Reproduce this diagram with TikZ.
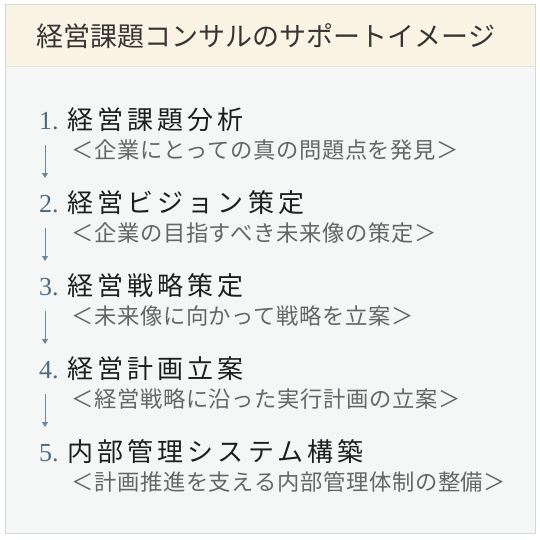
\documentclass[tikz,border=0pt]{standalone}
\usepackage{fontspec}
\usetikzlibrary{arrows.meta}
\newfontfamily\jpfont{Noto Sans CJK JP}
\newfontfamily\jphead[LetterSpace=16]{Noto Sans CJK JP}
\newfontfamily\jpsub[LetterSpace=3]{Noto Sans CJK JP}
\newfontfamily\numfont{Liberation Serif}
\definecolor{headbg}{HTML}{FBF4E4}
\definecolor{bodybg}{HTML}{F5F7F7}
\definecolor{frame}{HTML}{D5D8D8}
\definecolor{headtxt}{HTML}{1E1E1E}
\definecolor{numtxt}{HTML}{4B6A80}
\definecolor{subtxt}{HTML}{666666}
\definecolor{arrowc}{HTML}{6F8899}
\tikzset{
  titletext/.style={anchor=base, inner sep=0pt, text=headtxt!90!white, font=\jpfont\fontsize{27}{30}\selectfont},
  numtext/.style={anchor=base west, inner sep=0pt, text=numtxt, font=\numfont\fontsize{26}{30}\selectfont},
  headtext/.style={anchor=base west, inner sep=0pt, text=headtxt, font=\jphead\fontsize{26}{30}\selectfont},
  subtext/.style={anchor=base west, inner sep=0pt, text=subtxt, font=\jpsub\fontsize{22.3}{26}\selectfont},
  flowarrow/.style={draw=arrowc, line width=0.8pt, -{Triangle[width=6pt,length=5pt]}}
}
\begin{document}
\begin{tikzpicture}[x=1pt,y=-1pt]
\useasboundingbox (0,0) rectangle (540,539);
\fill[white] (0,0) rectangle (540,539);
\filldraw[fill=bodybg, draw=frame, line width=1pt] (5,4) rectangle (535,533);
\fill[headbg] (5.5,4.5) rectangle (534.5,66);
\draw[frame!70!white, line width=0.5pt] (5.5,66) -- (534.5,66);
\node[titletext] (title) at (266,46.3) {経営課題コンサルのサポートイメージ};
% items
\node[numtext] (n1) at (39,129) {1.};
\node[headtext] (h1) at (67,129.9) {経営課題分析};
\node[subtext] (s1) at (71,158.5) {＜企業にとっての真の問題点を発見＞};
\node[numtext] (n2) at (39,212) {2.};
\node[headtext] (h2) at (67,212.9) {経営ビジョン策定};
\node[subtext] (s2) at (71,241.5) {＜企業の目指すべき未来像の策定＞};
\node[numtext] (n3) at (39,295) {3.};
\node[headtext] (h3) at (67,295.9) {経営戦略策定};
\node[subtext] (s3) at (71,324.5) {＜未来像に向かって戦略を立案＞};
\node[numtext] (n4) at (39,378) {4.};
\node[headtext] (h4) at (67,378.9) {経営計画立案};
\node[subtext] (s4) at (71,407.5) {＜経営戦略に沿った実行計画の立案＞};
\node[numtext] (n5) at (39,461) {5.};
\node[headtext] (h5) at (67,461.9) {内部管理システム構築};
\node[subtext] (s5) at (71,490.5) {＜計画推進を支える内部管理体制の整備＞};
% arrows
\foreach \i/\y in {1/145,2/228,3/311,4/394}{
  \coordinate (a\i) at (45,\y);
  \coordinate (b\i) at (45,\y+33);
  \draw[flowarrow] (a\i) -- (b\i);
}
\end{tikzpicture}
\end{document}
